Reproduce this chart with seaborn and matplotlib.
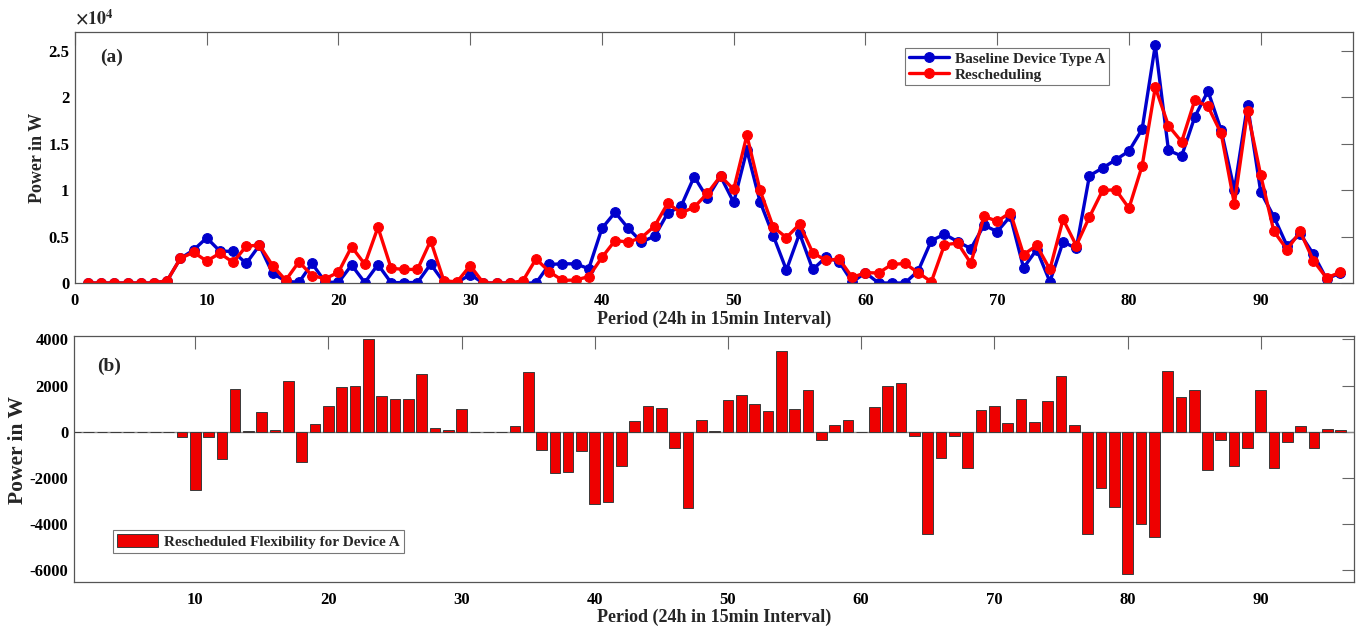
import matplotlib
matplotlib.use("Agg")
import matplotlib.pyplot as plt
import seaborn as sns
import pandas as pd
from matplotlib.ticker import FuncFormatter

periods = list(range(1, 97))

baseline = [0, 0, 0, 0, 0, 0, 250, 2640, 3540, 4860,
            3430, 3400, 2100, 4050, 1040, 200, 60, 2100, 100, 60,
            1930, 50, 1980, 30, 50, 50, 2030, 80, 50, 900,
            0, 0, 0, 0, 0, 1990, 2070, 2060, 1540, 5880,
            7600, 5880, 4420, 5030, 7540, 8240, 11440, 9140, 11480, 8680,
            14300, 8750, 5100, 1400, 5330, 1460, 2760, 2280, 100, 1100,
            0, 0, 0, 1300, 4550, 5250, 4450, 3700, 6220, 5530,
            7180, 1630, 3600, 140, 4430, 3720, 11540, 12370, 13260, 14190,
            16540, 25600, 14270, 13660, 17880, 20640, 16430, 10000, 19170, 9800,
            7120, 4000, 5280, 3100, 430, 1060]

resched = [0, 0, 0, 0, 0, 0, 250, 2640, 3310, 2360,
           3200, 2220, 3960, 4080, 1880, 300, 2280, 800, 460, 1160,
           3900, 2020, 5990, 1580, 1460, 1460, 4550, 240, 120, 1870,
           0, 0, 0, 240, 2590, 1220, 280, 320, 690, 2750,
           4570, 4400, 4880, 6130, 8590, 7540, 8150, 9640, 11500, 10070,
           15880, 9970, 6020, 4890, 6320, 3260, 2420, 2580, 600, 1110,
           1080, 2000, 2100, 1110, 130, 4120, 4290, 2130, 7180, 6630,
           7580, 3050, 4040, 1460, 6850, 4030, 7100, 9960, 10030, 8050,
           12600, 21050, 16920, 15190, 19670, 18990, 16090, 8510, 18470, 11600,
           5560, 3600, 5540, 2400, 550, 1130]

flex = [0, 0, 0, 0, 0, 0, 0, 0, -230, -2500,
        -230, -1180, 1860, 20, 840, 100, 2220, -1310, 360, 1100,
        1950, 1970, 4000, 1550, 1410, 1410, 2520, 160, 70, 970,
        0, 0, 0, 240, 2600, -770, -1790, -1740, -850, -3130,
        -3030, -1480, 460, 1100, 1050, -700, -3290, 500, 20, 1390,
        1580, 1220, 920, 3490, 990, 1800, -340, 300, 500, 10,
        1080, 2000, 2110, -190, -4420, -1130, -160, -1570, 960, 1100,
        400, 1420, 440, 1320, 2420, 310, -4440, -2420, -3240, -6150,
        -3970, -4560, 2650, 1530, 1790, -1660, -350, -1500, -710, 1800,
        -1580, -420, 250, -710, 110, 70]

top_xticks = [0, 10, 20, 30, 40, 50, 60, 70, 80, 90]
top_yticks = [0, 5000, 10000, 15000, 20000, 25000]
bot_xticks = [10, 20, 30, 40, 50, 60, 70, 80, 90]
bot_yticks = [-6000, -4000, -2000, 0, 2000, 4000]

sns.set_style("white")
plt.rcParams["font.family"] = ["Liberation Serif", "DejaVu Serif"]
plt.rcParams["font.weight"] = "bold"
plt.rcParams["axes.labelweight"] = "bold"
plt.rcParams["mathtext.fontset"] = "stix"
plt.rcParams["axes.unicode_minus"] = False

BLUE = "#0000CC"
RED = "#FF0000"
SPINE = "#555555"

df_top = pd.DataFrame({"Period": periods, "Baseline": baseline, "Resched": resched})
df_bot = pd.DataFrame({"Period": periods, "Flex": flex})

fig = plt.figure(figsize=(13.6, 6.3), dpi=100)
ax1 = fig.add_axes([0.0551, 0.5508, 0.9397, 0.3984])
ax2 = fig.add_axes([0.0544, 0.0762, 0.9412, 0.3905])

sns.lineplot(data=df_top, x="Period", y="Baseline", ax=ax1, color=BLUE,
             linewidth=2.4, marker="o", markersize=7, markeredgecolor=BLUE,
             markeredgewidth=0.8, label="Baseline Device Type A")
sns.lineplot(data=df_top, x="Period", y="Resched", ax=ax1, color=RED,
             linewidth=2.4, marker="o", markersize=7, markeredgecolor=RED,
             markeredgewidth=0.8, label="Rescheduling")

ax1.set_xlim(0, 97)
ax1.set_ylim(0, 27000)
ax1.set_xticks(top_xticks)
ax1.set_yticks(top_yticks)
ax1.yaxis.set_major_formatter(FuncFormatter(lambda v, p: f"{v/1e4:g}"))
ax1.set_xlabel("Period (24h in 15min Interval)", fontsize=13)
ax1.set_ylabel("Power in W", fontsize=13)
ax1.xaxis.set_label_coords(0.5, -0.112)
ax1.yaxis.set_label_coords(-0.0227, 0.5)
ax1.text(0.0, 1.015, r"$\times10^{4}$", transform=ax1.transAxes, fontsize=13,
         fontweight="normal", ha="left", va="bottom")
ax1.text(0.02, 0.90, "(a)", transform=ax1.transAxes, fontsize=14,
         fontweight="bold", ha="left", va="center")
leg1 = ax1.legend(loc="upper left", bbox_to_anchor=(0.6495, 0.936), fontsize=11,
                  frameon=True, fancybox=False, framealpha=1, edgecolor="#777777",
                  handlelength=2.6, handletextpad=0.4, borderpad=0.25,
                  labelspacing=0.15, borderaxespad=0)
leg1.get_frame().set_linewidth(0.8)

ax2.axhline(0, color="#8a8a8a", linewidth=1.0, zorder=1)
sns.barplot(data=df_bot, x="Period", y="Flex", ax=ax2, native_scale=True,
            orient="x", color="#EE0000", saturation=1, width=0.8,
            edgecolor="#3a3a3a", linewidth=0.7, errorbar=None,
            label="Rescheduled Flexibility for Device A", zorder=2)
ax2.set_xlim(0.9, 97)
ax2.set_ylim(-6500, 4150)
ax2.set_xticks(bot_xticks)
ax2.set_xticklabels([str(t) for t in bot_xticks])
ax2.set_yticks(bot_yticks)
ax2.set_xlabel("Period (24h in 15min Interval)", fontsize=13)
ax2.set_ylabel("Power in W", fontsize=15.5)
ax2.xaxis.set_label_coords(0.5, -0.11)
ax2.yaxis.set_label_coords(-0.036, 0.537)
ax2.text(0.018, 0.875, "(b)", transform=ax2.transAxes, fontsize=14,
         fontweight="bold", ha="left", va="center")
leg2 = ax2.legend(loc="upper left", bbox_to_anchor=(0.0305, 0.2114), fontsize=11,
                  frameon=True, fancybox=False, framealpha=1, edgecolor="#777777",
                  handlelength=2.7, handleheight=1.0, handletextpad=0.4,
                  borderpad=0.25, borderaxespad=0)
leg2.get_frame().set_linewidth(0.8)

for ax in (ax1, ax2):
    for s in ax.spines.values():
        s.set_visible(True)
        s.set_color(SPINE)
        s.set_linewidth(0.9)
    ax.tick_params(axis="both", which="major", direction="in", length=9,
                   width=0.8, color="#666666", labelsize=12, top=True,
                   right=True, labelcolor="black")
    ax.tick_params(axis="x", pad=7)
    ax.tick_params(axis="y", pad=4)
    for lab in ax.get_xticklabels() + ax.get_yticklabels():
        lab.set_fontweight("bold")

fig.savefig("out.png", dpi=100)
